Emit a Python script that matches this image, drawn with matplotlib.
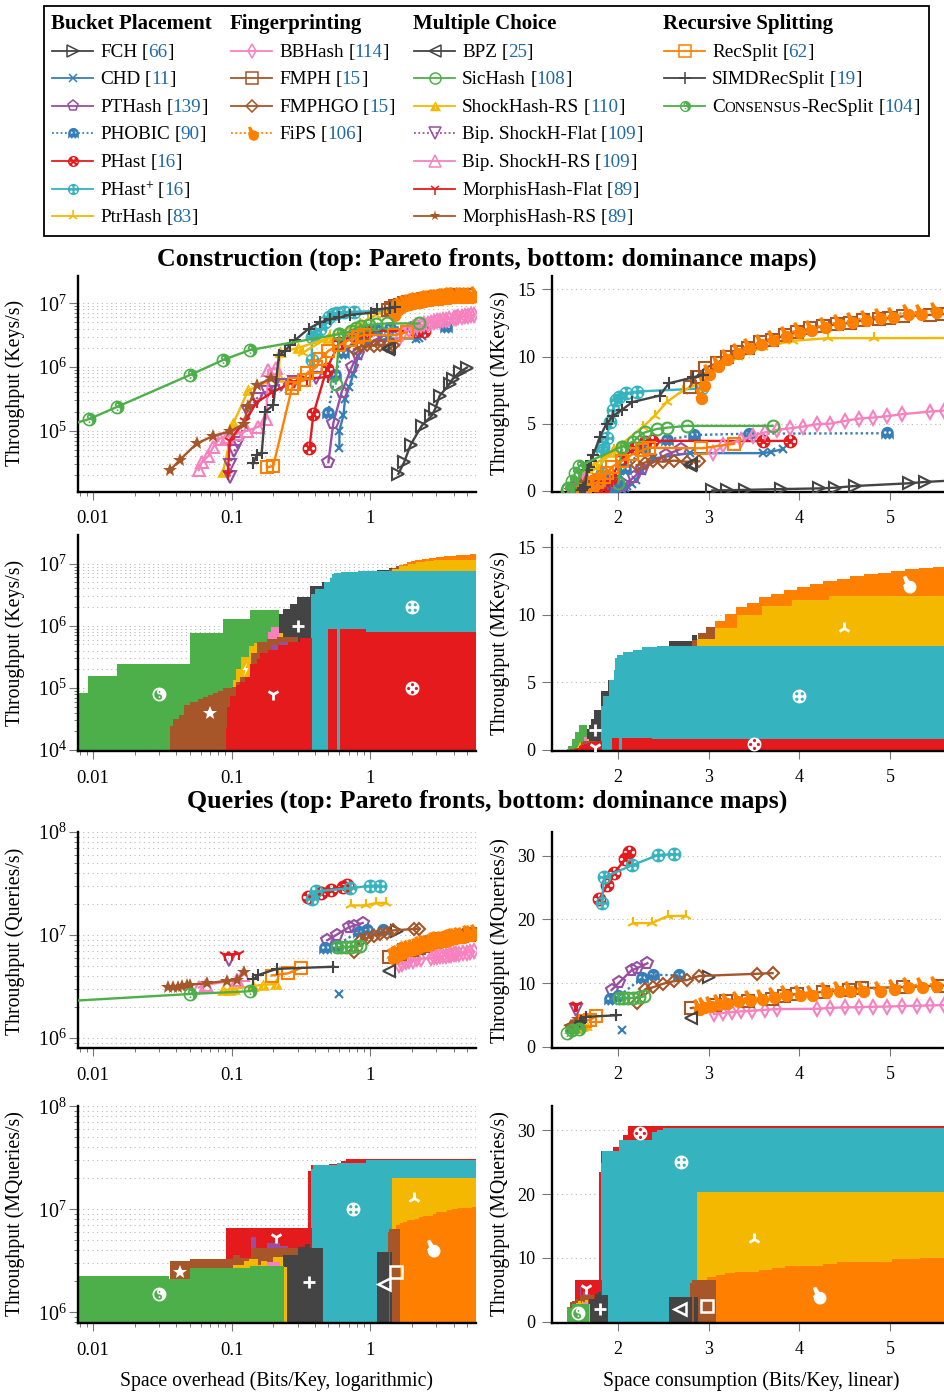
import numpy as np
import matplotlib
matplotlib.use("Agg")
import matplotlib.pyplot as plt
from matplotlib.path import Path
from matplotlib.patches import Rectangle

plt.rcParams['font.family'] = ['Liberation Serif', 'DejaVu Serif']
plt.rcParams['mathtext.fontset'] = 'custom'
plt.rcParams['mathtext.rm'] = 'Liberation Serif'
plt.rcParams['mathtext.default'] = 'rm'
plt.rcParams['axes.axisbelow'] = True

W, H = 944, 1393
LOG2E = 1.4427  # space consumption = overhead + log2(e)
XEND = 5.81

# ---- Pareto fronts: overhead (bits/key), million per second
# construction
con_fch_x = [1.6, 1.76, 1.96, 2.36, 2.77, 2.95, 3.17, 3.76, 3.94, 4.46, 5.0]
con_fch_y = [.021, .032, .06, .12, .17, .22, .35, .55, .65, .84, .98]
con_chd_x = [.6, .6, .642, .66, .71, .758, .82, .95, 1.353, 2.16, 2.25, 2.38]
con_chd_y = [.0535, .1, .176, .32, .49, .79, 1.5, 2.4, 2.8, 2.8, 2.9, 3.1]
con_pth_x = [.5, .543, .625, .737, .823, 1.085, 1.25]
con_pth_y = [.032, .133, .41, 1.0, 1.6, 2.66, 3.1]
con_pho_x = [.495, .558, .634, .85, 1.097, 1.4, 2.0, 3.52]
con_pho_y = [.187, .75, 1.64, 3.2, 3.78, 4.15, 4.25, 4.28]
con_pha_x = [.365, .39, .486, .6, .75, .858, .93, 2.16, 2.454]
con_pha_y = [.0535, .183, .93, 2.4, 3.2, 3.65, 3.72, 3.7, 3.72]
con_php_x = [.38, .38, .4, .436, .473, .509, .539, .575, .645, .766, 1.49]
con_php_y = [1.3, 3.0, 3.28, 3.9, 5.15, 6.0, 6.77, 7.0, 7.26, 7.39, 7.62]
con_ptr_x = [.326, .517, .84, .968, 1.096, 1.273, 1.5, 1.647, 1.886, 2.16, 2.49, 2.875, 3.38, 5.9]
con_ptr_y = [1.67, 3.03, 4.78, 5.6, 6.6, 7.46, 8.13, 9.05, 9.95, 10.7, 11.17, 11.37, 11.37, 11.4]
con_bbh_x = [1.61, 1.72, 1.92, 2.05, 2.18, 2.315, 2.454, 2.6, 2.75, 2.9, 3.06, 3.21, 3.37, 3.52, 3.69, 4.0, 4.15, 4.3, 4.6, 4.85, 5.1, 5.35, 5.6]
con_bbh_y = [2.78, 3.4, 3.78, 4.1, 4.35, 4.53, 4.65, 4.78, 4.95, 5.0, 5.2, 5.37, 5.45, 5.55, 5.7, 5.9, 5.97, 6.0, 6.15, 6.3, 6.4, 6.5, 6.6]
con_fmp_x = [1.353, 1.426, 1.518, 1.647, 1.757, 1.867, 1.995, 2.124, 2.253, 2.4, 2.53, 2.675, 2.82, 2.97, 3.115, 3.26, 3.43, 3.54, 3.7, 4.0, 4.14, 4.4, 5.0]
con_fmp_y = [7.76, 8.5, 9.13, 9.5, 9.95, 10.3, 10.6, 11.05, 11.24, 11.57, 11.8, 12.1, 12.24, 12.4, 12.5, 12.7, 12.8, 12.85, 13.0, 13.1, 13.16, 13.3, 13.5]
con_fgo_x = [.766, .858, .95, 1.06, 1.18, 1.317, 1.456]
con_fgo_y = [1.9, 2.1, 2.2, 2.16, 2.24, 2.16, 2.19]
con_fip_x = [1.463, 1.5, 1.555, 1.647, 1.75, 1.867, 1.995, 2.124, 2.26, 2.4, 2.546, 2.68, 2.83, 2.98, 3.125, 3.28, 3.43, 3.58, 3.74, 3.89, 4.05, 4.35, 4.6, 4.9, 5.3, 5.7]
con_fip_y = [7.06, 8.0, 8.88, 9.43, 9.95, 10.4, 10.75, 11.1, 11.37, 11.7, 11.94, 12.1, 12.34, 12.54, 12.74, 12.84, 13.0, 13.1, 13.28, 13.33, 13.43, 13.5, 13.6, 13.65, 13.7, 13.8]
con_bpz_x = [1.35, 1.37]
con_bpz_y = [1.9, 2.0]
con_sic_x = [.565, .6, .73, .785, .858, .986, 1.104, 1.317, 2.263]
con_sic_y = [.55, 3.28, 3.66, 4.03, 4.35, 4.6, 4.7, 4.83, 4.83]
con_sho_x = [.087, .103, .132, .22, .222, .304, .5]
con_sho_y = [.0227, .13, .43, .7, 1.7, 2.0, 2.85]
con_bif_x = [.097, .097, .105, .112, .132, .152, .179, .2, .226, .28, .41]
con_bif_y = [.019, .029, .048, .065, .2, .32, .41, .5, .52, .59, .66]
con_bir_x = [.058, .061, .068, .074, .082, .092, .11, .13, .156, .178, .184, .21]
con_bir_y = [.024, .032, .04, .056, .075, .08, .09, .1, .115, .155, .9, .95]
con_mof_x = [.094, .097, .125, .152, .2, .28, .35, .5]
con_mof_y = [.021, .07, .143, .28, .41, .58, .65, .7]
con_mor_x = [.036, .0425, .056, .074, .098, .122, .132, .152, .194]
con_mor_y = [.024, .035, .063, .083, .098, .127, .24, .52, .66]
con_rec_x = [.18, .2, .272, .28, .334, .35, .41, .436, .5, .6, .717, .824, .9, 1.48, 1.84]
con_rec_y = [.0265, .028, .46, .54, .62, .8, 1.0, 1.32, 1.8, 2.2, 2.7, 3.0, 3.2, 3.16, 3.5]
con_sim_x = [.144, .152, .165, .175, .2, .22, .243, .265, .288, .36, .435, .51, .6, .717, 1.02, 1.12, 1.39, 1.5]
con_sim_y = [.031, .042, .044, .2, .25, 1.54, 1.8, 2.2, 2.65, 4.0, 5.0, 5.6, 6.0, 6.6, 7.09, 8.0, 8.45, 8.63]
con_cons_x = [.0033, .0093, .015, .05, .087, .136, .6]
con_cons_y = [.08, .151, .238, .748, 1.29, 1.85, 3.28]

# queries
qry_fch_x = [1.56]
qry_fch_y = [11.0]
qry_chd_x = [.6]
qry_chd_y = [2.67]
qry_pth_x = [.49, .575, .71, .766, .884]
qry_pth_y = [8.9, 10.1, 12.0, 12.3, 13.1]
qry_pho_x = [.473, .565, .83, .95, 1.23]
qry_pho_y = [7.5, 7.9, 10.8, 11.3, 11.2]
qry_pha_x = [.355, .443, .52, .638, .685]
qry_pha_y = [23.2, 25.4, 27.3, 29.4, 30.6]
qry_php_x = [.381, .407, .72, 1.005, 1.177]
qry_php_y = [22.6, 26.6, 28.5, 30.1, 30.2]
qry_ptr_x = [.73, .931, 1.107, 1.306]
qry_ptr_y = [19.4, 19.4, 20.5, 20.55]
qry_bbh_x = [1.617, 1.713, 1.812, 1.92, 2.04, 2.18, 2.315, 2.755, 2.9, 3.06, 3.21, 3.37, 3.52, 3.69, 3.85, 4.0, 4.15, 4.4, 4.7, 5.0, 5.3, 5.6]
qry_bbh_y = [5.12, 5.28, 5.44, 5.54, 5.65, 5.8, 5.9, 5.96, 6.1, 6.17, 6.2, 6.27, 6.3, 6.38, 6.43, 6.48, 6.53, 6.6, 6.7, 6.75, 6.85, 6.95]
qry_fmp_x = [1.364, 1.63, 1.75, 1.995, 2.26, 2.39, 2.53, 2.82, 3.1, 3.25, 3.7, 4.12, 4.6, 5.2, 5.7]
qry_fmp_y = [6.06, 6.5, 7.1, 7.1, 7.5, 7.9, 8.3, 8.6, 8.9, 9.2, 9.35, 9.6, 9.8, 10.1, 10.3]
qry_fgo_x = [.766, .858, .95, 1.06, 1.18, 1.317, 1.456, 2.09, 2.263]
qry_fgo_y = [6.85, 9.0, 9.35, 9.9, 10.3, 10.45, 11.1, 11.45, 11.55]
qry_fip_x = [1.445, 1.5, 1.57, 1.665, 1.75, 1.875, 2.0, 2.13, 2.27, 2.4, 2.55, 2.69, 2.84, 2.98, 3.1, 3.25, 3.44, 3.59, 3.74, 3.9, 4.05, 4.3, 4.6, 5.0, 5.3, 5.7]
qry_fip_y = [6.2, 6.6, 6.75, 6.95, 7.25, 7.5, 7.65, 7.8, 8.15, 8.4, 8.45, 8.5, 8.95, 9.1, 9.05, 9.1, 9.1, 9.45, 9.65, 9.7, 9.8, 9.95, 10.1, 10.4, 10.55, 10.7]
qry_bpz_x = [1.364]
qry_bpz_y = [4.5]
qry_sic_x = [.575, .62, .67, .73, .79, .85]
qry_sic_y = [7.63, 7.65, 7.65, 7.65, 7.75, 7.9]
qry_sho_x = [.087, .098, .105, .144, .169, .21]
qry_sho_y = [2.95, 2.95, 3.0, 3.2, 3.3, 3.35]
qry_bif_x = [.096]
qry_bif_y = [5.7]
qry_bir_x = [.058, .065, .11, .12]
qry_bir_y = [3.1, 3.3, 3.65, 4.1]
qry_mof_x = [.09, .1, .114]
qry_mof_y = [6.45, 6.45, 6.6]
qry_mor_x = [.035, .038, .041, .044, .048, .05, .066, .092, .11, .122]
qry_mor_y = [3.15, 3.15, 3.15, 3.2, 3.25, 3.3, 3.4, 3.6, 3.65, 4.35]
qry_rec_x = [.195, .257, .318]
qry_rec_y = [4.05, 4.26, 4.8]
qry_sim_x = [.144, .156, .212, .543]
qry_sim_y = [3.72, 4.1, 4.7, 4.93]
qry_cons_x = [.003, .05, .136]
qry_cons_y = [2.15, 2.68, 2.85]

# ---- Dominance maps: step outlines, painted back to front
# construction
cm_orange_x = [1.53, 1.629, 1.739, 1.856, 1.98, 2.113, 2.245, 2.388, 2.531, 2.675, 2.818, 2.969, 3.115, 3.266, 3.42, 3.57, 3.72, 3.875, 4.03, 4.19, 4.35, 4.6, 4.9, 5.3, XEND]
cm_orange_y = [9.0, 9.55, 10.05, 10.55, 10.9, 11.3, 11.55, 11.8, 12.05, 12.3, 12.5, 12.65, 12.85, 13.0, 13.1, 13.25, 13.35, 13.45, 13.55, 13.6, 13.7, 13.85, 14.0, 14.2, 14.2]
cm_dark2_x = [1.117, 1.38, 1.43]
cm_dark2_y = [8.03, 8.5, 8.5]
cm_brown2_x = [1.379, 1.441, 1.53, 1.629]
cm_brown2_y = [8.1, 8.65, 9.1, 9.1]
cm_yellow_x = [1.427, 1.629, 1.867, 2.142, 2.473, 2.88, XEND]
cm_yellow_y = [8.2, 9.03, 9.95, 10.65, 11.1, 11.4, 11.4]
cm_dark_x = [.22, .2365, .2643, .2985, .3688, .4476, .514]
cm_dark_y = [1.54, 1.84, 2.24, 2.95, 4.34, 5.14, 5.14]
cm_teal_x = [.374, .4, .462, .517, .532, .546, .62, .73, .82, .987, XEND]
cm_teal_y = [3.2, 3.95, 5.15, 5.9, 6.8, 7.0, 7.25, 7.4, 7.6, 7.66, 7.66]
cm_red_x = [.495, .575, .61, .935, XEND]
cm_red_y = [.88, .001, .88, .79, .79]
cm_green_x = [.003, .00926, .0149, .0501, .0869, .135, .22]
cm_green_y = [.083, .156, .24, .77, 1.3, 1.81, 1.81]
cm_pink_x = [.1827, .1915, .22]
cm_pink_y = [.8, .94, .94]
cm_shock_x = [.103, .108, .1168, .1345, .145, .1795, .22, .236]
cm_shock_y = [.134, .198, .317, .471, .53, .57, .753, .753]
cm_brown_x = [.0357, .0378, .0417, .0457, .0501, .057, .0625, .068, .0739, .0795, .087, .1, .108, .115, .1393, .152, .1795, .2117, .3037]
cm_brown_y = [.0243, .031, .0365, .053, .06, .066, .072, .077, .084, .09, .098, .104, .126, .15, .36, .55, .62, .665, .665]
cm_purple_x = [.195, .2217, .2568]
cm_purple_y = [.483, .553, .553]
cm_morph_x = [.0916, .0933, .0974, .1077, .1154, .1252, .136, .1517, .1605, .1845, .2182, .2568, .3125, .379]
cm_morph_y = [.0223, .0497, .0745, .111, .125, .151, .247, .287, .359, .415, .487, .553, .625, .625]

# queries
qm_red_x = [.355, .374, .509, .575, .612, .674, XEND]
qm_red_y = [23.5, 26.7, 27.4, 28.3, 29.2, 30.7, 30.7]
qm_teal_x = [.374, .388, .575, .939, .986, 1.06, XEND]
qm_teal_y = [24.8, 26.8, 28.4, 29.8, 30.1, 30.3, 30.3]
qm_yellow_x = [1.427, XEND]
qm_yellow_y = [20.3, 20.3]
qm_orange_x = [1.544, 1.64, 1.739, 1.849, 2.117, 2.252, 2.399, 2.821, 2.968, 3.574, 3.886, 4.3, 4.9, 5.4, XEND]
qm_orange_y = [7.04, 7.3, 7.56, 7.8, 8.08, 8.45, 8.7, 9.1, 9.34, 9.8, 9.96, 10.2, 10.4, 10.6, 10.6]
qm_brown2_x = [1.353, 1.372, 1.636]
qm_brown2_y = [6.05, 6.47, 6.47]
qm_bpz_x = [1.122, 1.372, 1.397, 1.438]
qm_bpz_y = [3.85, .001, 3.85, 3.85]
qm_morph_x = [.0917, .379]
qm_morph_y = [6.54, 6.54]
qm_purple_x = [.139, .15, .18, .222, .257]
qm_purple_y = [5.43, .001, 4.67, 4.4, 4.4]
qm_brown_x = [.0357, .0501, .103, .115, .139, .3]
qm_brown_y = [3.15, 3.27, 3.6, 3.34, 4.18, 4.18]
qm_dark_x = [.2365, .304, .339, .369, .455]
qm_dark_y = [3.6, 4.34, 4.6, 4.21, 4.21]
qm_shock_x = [.103, .122, .1337, .156, .162, .18, .2, .234, .25]
qm_shock_y = [2.88, 3.17, 3.27, 2.88, 3.17, 2.88, 3.47, 2.78, 2.78]
qm_pink_x = [.18, .222]
qm_pink_y = [3.1, 3.1]
qm_green_x = [.003, .0354, .0501, .136, .2395]
qm_green_y = [2.24, 2.1, 2.7, 2.82, 2.82]

# ---- colours
DARK = '#444444'
BLUE = '#377EB8'
PURPLE = '#984EA3'
RED = '#E41A1C'
TEAL = '#35B3BF'
YELLOW = '#F5B800'
PINK = '#F781BF'
BROWN = '#A65628'
ORANGE = '#FF7F00'
GREEN = '#4DAF4A'
CITE = '#1F6BA5'


# ---- marker shapes
def oriented(pts, ccw=True):
    pts = np.asarray(pts, dtype=float)
    x, y = pts[:, 0], pts[:, 1]
    area = np.sum(x * np.roll(y, -1) - np.roll(x, -1) * y)
    if (area > 0) != ccw:
        pts = pts[::-1]
    return pts


def arc(cx, cy, r, a0, a1, n=24):
    a = np.radians(np.linspace(a0, a1, n))
    return np.column_stack([cx + r * np.cos(a), cy + r * np.sin(a)])


def circ(cx, cy, r, ccw=True):
    return oriented(arc(cx, cy, r, 0, 350, 36), ccw)


def shape(*polys):
    paths = [Path(np.vstack([p, p[0]]), closed=True) for p in polys]
    return Path.make_compound_path(*paths)


def wheel(angles):
    holes = [circ(.56 * np.cos(np.radians(a)), .56 * np.sin(np.radians(a)), .23, False) for a in angles]
    return shape(circ(0, 0, 1), *holes)


PHAST_M = wheel([0, 90, 180, 270])
PHASTP_M = wheel([45, 135, 225, 315])

yin = np.vstack([arc(0, 0, .76, 90, 270), arc(0, -.38, .38, -90, 90), arc(0, .38, .38, -90, -270)])
YINYANG_M = shape(circ(0, 0, 1), oriented(yin, False), circ(0, -.38, .13), circ(0, .38, .13, False))

ghost = np.vstack([arc(0, .05, 1, 0, 180),
                   [(-1, -1), (-.66, -.65), (-.33, -1), (0, -.65), (.33, -1), (.66, -.65), (1, -1)]])
GHOST_M = shape(oriented(ghost), circ(-.36, .15, .2, False), circ(.36, .15, .2, False))

HAND_M = shape(circ(.18, -.3, .72),
               oriented([(-.62, .85), (-.28, 1.0), (.3, .1), (-.32, -.1)]),
               oriented([(-.62, -.1), (-.3, -.55), (0, -.2), (-.3, .15)]))

bolt = [(.18, .62), (-.28, -.05), (.02, -.05), (-.16, -.62), (.3, .12), (.0, .12)]
SHOCK_M = shape(oriented([(-1, -.85), (1, -.85), (0, 1)]), oriented(bolt, False))
BOLT_M = shape(oriented([(x * 1.4, y * 1.6) for x, y in bolt]))

# name, citation, colour, marker, hollow, line style, marker size, x/y of both panels
methods = [
    ('FCH', '66', DARK, '>', True, '-', 8.5, con_fch_x, con_fch_y, qry_fch_x, qry_fch_y),
    ('CHD', '11', BLUE, 'x', False, '-', 6, con_chd_x, con_chd_y, qry_chd_x, qry_chd_y),
    ('PTHash', '139', PURPLE, 'p', True, '-', 8.5, con_pth_x, con_pth_y, qry_pth_x, qry_pth_y),
    ('PHOBIC', '90', BLUE, GHOST_M, False, ':', 9.5, con_pho_x, con_pho_y, qry_pho_x, qry_pho_y),
    ('PHast', '16', RED, PHAST_M, False, '-', 10, con_pha_x, con_pha_y, qry_pha_x, qry_pha_y),
    ('PHast+', '16', TEAL, PHASTP_M, False, '-', 10, con_php_x, con_php_y, qry_php_x, qry_php_y),
    ('PtrHash', '83', YELLOW, '2', False, '-', 8.5, con_ptr_x, con_ptr_y, qry_ptr_x, qry_ptr_y),
    ('BBHash', '114', PINK, 'd', True, '-', 7.5, con_bbh_x, con_bbh_y, qry_bbh_x, qry_bbh_y),
    ('FMPH', '15', BROWN, 's', True, '-', 8, con_fmp_x, con_fmp_y, qry_fmp_x, qry_fmp_y),
    ('FMPHGO', '15', BROWN, 'D', True, '-', 6, con_fgo_x, con_fgo_y, qry_fgo_x, qry_fgo_y),
    ('FiPS', '106', ORANGE, HAND_M, False, ':', 12.5, con_fip_x, con_fip_y, qry_fip_x, qry_fip_y),
    ('BPZ', '25', DARK, '<', True, '-', 8.5, con_bpz_x, con_bpz_y, qry_bpz_x, qry_bpz_y),
    ('SicHash', '108', GREEN, 'o', True, '-', 8.5, con_sic_x, con_sic_y, qry_sic_x, qry_sic_y),
    ('ShockHash-RS', '110', YELLOW, SHOCK_M, False, '-', 9, con_sho_x, con_sho_y, qry_sho_x, qry_sho_y),
    ('Bip. ShockH-Flat', '109', PURPLE, 'v', True, ':', 8.5, con_bif_x, con_bif_y, qry_bif_x, qry_bif_y),
    ('Bip. ShockH-RS', '109', PINK, '^', True, '-', 8.5, con_bir_x, con_bir_y, qry_bir_x, qry_bir_y),
    ('MorphisHash-Flat', '89', RED, '1', False, '-', 8.5, con_mof_x, con_mof_y, qry_mof_x, qry_mof_y),
    ('MorphisHash-RS', '89', BROWN, '*', False, '-', 10, con_mor_x, con_mor_y, qry_mor_x, qry_mor_y),
    ('RecSplit', '62', ORANGE, 's', True, '-', 8, con_rec_x, con_rec_y, qry_rec_x, qry_rec_y),
    ('SIMDRecSplit', '19', DARK, '+', False, '-', 8.5, con_sim_x, con_sim_y, qry_sim_x, qry_sim_y),
    ('CONSENSUS', '104', GREEN, YINYANG_M, False, '-', 10, con_cons_x, con_cons_y, qry_cons_x, qry_cons_y),
]

con_layers = [(cm_orange_x, cm_orange_y, ORANGE), (cm_dark2_x, cm_dark2_y, DARK), (cm_brown2_x, cm_brown2_y, BROWN),
              (cm_orange_x[1:], cm_orange_y[1:], ORANGE), (cm_yellow_x, cm_yellow_y, YELLOW), (cm_dark_x, cm_dark_y, DARK),
              (cm_teal_x, cm_teal_y, TEAL), (cm_red_x, cm_red_y, RED), (cm_green_x, cm_green_y, GREEN),
              (cm_pink_x, cm_pink_y, PINK), (cm_shock_x, cm_shock_y, YELLOW), (cm_brown_x, cm_brown_y, BROWN),
              (cm_purple_x, cm_purple_y, PURPLE), (cm_morph_x, cm_morph_y, RED)]
qry_layers = [(qm_red_x, qm_red_y, RED), (qm_teal_x, qm_teal_y, TEAL), (qm_yellow_x, qm_yellow_y, YELLOW),
              (qm_orange_x, qm_orange_y, ORANGE), (qm_brown2_x, qm_brown2_y, BROWN), (qm_bpz_x, qm_bpz_y, DARK),
              (qm_morph_x, qm_morph_y, RED), (qm_purple_x, qm_purple_y, PURPLE), (qm_brown_x, qm_brown_y, BROWN),
              (qm_dark_x, qm_dark_y, DARK), (qm_shock_x, qm_shock_y, YELLOW), (qm_pink_x, qm_pink_y, PINK),
              (qm_green_x, qm_green_y, GREEN)]

# white region labels: marker, size, width, x (overhead or bits), y (million)
icons_con_log = [(YINYANG_M, 10, 0, .0299, .0805), ('*', 10, 0, .0698, .0398), ('1', 9, 2, .2, .0786), (BOLT_M, 10, 0, .125, .198),
                 (PHAST_M, 10, 0, 2.02, .1), (PHASTP_M, 10, 0, 2.02, 2.02), ('+', 8, 2, .3, 1.0)]
icons_con_lin = [(HAND_M, 13, 0, 5.2, 12.3), ('2', 9, 2, 4.495, 9.03), (PHASTP_M, 10, 0, 4.0, 4.0), (PHAST_M, 10, 0, 3.5, .4),
                 ('+', 8, 2, 1.75, 1.47), ('1', 9, 2, 1.75, .22)]
icons_qry_log = [(YINYANG_M, 10, 0, .0299, 1.5), ('*', 10, 0, .0428, 2.48), ('1', 9, 2, .209, 5.35), (PHASTP_M, 10, 0, .75, 10.0),
                 ('2', 9, 2, 2.07, 13.0), (HAND_M, 13, 0, 2.8, 4.2), ('+', 8, 2, .362, 1.98)]
icons_qry_hollow_log = [('<', 1.25, 1.88), ('s', 1.54, 2.48)]
icons_qry_lin = [(PHAST_M, 10, 0, 2.25, 29.6), (PHASTP_M, 10, 0, 2.7, 25.0), ('2', 9, 2, 3.5, 13.0), (HAND_M, 13, 0, 4.21, 4.17),
                 ('1', 9, 2, 1.65, 5.3), ('+', 8, 2, 1.8, 2.0), (YINYANG_M, 10, 0, 1.56, 1.4)]
icons_qry_hollow_lin = [('<', 2.69, 1.93), ('s', 2.98, 2.5)]

fig = plt.figure(figsize=(W / 100, H / 100), dpi=100)
FS = 13.75
LABEL_FS = 14.3
GRID = dict(color='#b8b8b8', ls=(0, (1, 3.2)), lw=.8)


def make_axes(top, bottom, left, right):
    ax = fig.add_axes([left / W, 1 - bottom / H, (right - left) / W, (bottom - top) / H])
    ax.spines['top'].set_visible(False)
    ax.spines['right'].set_visible(False)
    ax.spines['left'].set_linewidth(1.7)
    ax.spines['bottom'].set_linewidth(1.7)
    ax.patch.set_alpha(0)
    return ax


def style_log(ax, ylow, yhigh, decades):
    ax.set_xscale('log')
    ax.set_yscale('log')
    ax.set_xticks([.01, .1, 1], ['0.01', '0.1', '1'])
    ax.set_xticks([k * 10.0 ** d for d in (-3, -2, -1, 0) for k in range(2, 10)], minor=True)
    ax.set_xticklabels([], minor=True)
    ax.set_yticks([10.0 ** d for d in range(4, 9)], ['$10^{%d}$' % d for d in range(4, 9)])
    ax.set_yticks([k * 10.0 ** d for d in decades for k in range(2, 10)], minor=True)
    ax.set_yticklabels([], minor=True)
    ax.grid(True, axis='y', which='both', **GRID)
    ax.set_xlim(10 ** (-2 - 15.3 / 138.7), 10 ** (105.7 / 138.7))
    ax.set_ylim(10 ** ylow, 10 ** yhigh)
    ax.tick_params(axis='x', which='major', length=5.5, width=.8, color='#777777', pad=8, labelsize=13.3)
    ax.tick_params(axis='x', which='minor', length=3, width=.7, color='#777777')
    ax.tick_params(axis='y', which='major', length=6.5, width=.8, color='#777777', pad=1.5, labelsize=14.4)
    ax.tick_params(axis='y', which='minor', length=3, width=.7, color='#777777')


def style_lin(ax, yticks, ylow, yhigh):
    ax.set_xticks([2, 3, 4, 5])
    ax.set_yticks(yticks)
    ax.grid(True, axis='y', **GRID)
    ax.set_xlim(2 - 65.4 / 90.8, 2 + 326.3 / 90.8)
    ax.set_ylim(ylow, yhigh)
    ax.tick_params(axis='x', length=6, width=.8, color='#777777', pad=7, labelsize=13)
    ax.tick_params(axis='y', length=7, width=.8, color='#777777', pad=5, labelsize=13.1)


def draw_fronts(ax, panel, linear):
    for m in methods:
        name, cite, col, mk, hollow, ls, ms = m[:7]
        xs, ys = (m[7], m[8]) if panel == 'con' else (m[9], m[10])
        xs = np.array(xs) + (LOG2E if linear else 0)
        ys = np.array(ys) * (1 if linear else 1e6)
        ax.plot(xs, ys, color=col, lw=1.7, ls=(0, (1, 1.2)) if ls == ':' else '-', marker=mk, ms=ms,
                mfc='none' if hollow else col, mec=col, mew=1.5 if (hollow or mk in ('x', '+', '1', '2')) else 0, zorder=3)


def draw_map(ax, layers, linear):
    bottom = ax.get_ylim()[0]
    for xs, ys, col in layers:
        xs = np.array(xs) + (LOG2E if linear else 0)
        ys = np.array(ys) * (1 if linear else 1e6)
        ax.fill_between(xs, ys, bottom, step='post', color=col, lw=0, zorder=2)


def draw_icons(ax, icons, hollow, linear):
    f = 1 if linear else 1e6
    for mk, ms, mew, x, y in icons:
        ax.plot([x], [y * f], marker=mk, ms=ms, color='white', mec='white', mew=mew, zorder=4)
    for mk, x, y in hollow:
        ax.plot([x], [y * f], marker=mk, ms=8, mfc='none', mec='white', mew=1.8, zorder=4)


LEFT, MID, RIGHT, END = 77.7, 552.3, 475.7, 944

decades_con = (3, 4, 5, 6)
decades_qry = (5, 6, 7)

ax1 = make_axes(276, 491.5, LEFT, RIGHT)
style_log(ax1, 7 - 188.2 / 63.7, 7 + 27.3 / 63.7, decades_con)
draw_fronts(ax1, 'con', False)

ax2 = make_axes(276, 491.5, MID, END)
style_lin(ax2, [0, 5, 10, 15], -.06, 16)
draw_fronts(ax2, 'con', True)

ax3 = make_axes(535, 751, LEFT, RIGHT)
style_log(ax3, 7 - 187.3 / 62.1, 7 + 28.7 / 62.1, decades_con)
draw_map(ax3, con_layers, False)
draw_icons(ax3, icons_con_log, [], False)

ax4 = make_axes(535, 751, MID, END)
style_lin(ax4, [0, 5, 10, 15], -.1, 15.9)
draw_map(ax4, con_layers, True)
draw_icons(ax4, icons_con_lin, [], True)

ax5 = make_axes(832, 1048, LEFT, RIGHT)
style_log(ax5, 8 - 216.3 / 103.2, 8, decades_qry)
draw_fronts(ax5, 'qry', False)

ax6 = make_axes(832, 1048, MID, END)
style_lin(ax6, [0, 10, 20, 30], -.2, 33.7)
draw_fronts(ax6, 'qry', True)

ax7 = make_axes(1106.3, 1323, LEFT, RIGHT)
style_log(ax7, 8 - 216.7 / 103, 8, decades_qry)
draw_map(ax7, qry_layers, False)
draw_icons(ax7, icons_qry_log, icons_qry_hollow_log, False)

ax8 = make_axes(1106.3, 1323, MID, END)
style_lin(ax8, [0, 10, 20, 30], -.2, 33.75)
draw_map(ax8, qry_layers, True)
draw_icons(ax8, icons_qry_lin, icons_qry_hollow_lin, True)

# overlay in pixel coordinates for legend, titles and axis captions
ov = fig.add_axes([0, 0, 1, 1], zorder=10)
ov.set_xlim(0, W)
ov.set_ylim(H, 0)
ov.axis('off')

ov.text(487, 259.5, 'Construction (top: Pareto fronts, bottom: dominance maps)', ha='center', va='center', fontsize=18.6, fontweight='bold')
ov.text(487, 801.5, 'Queries (top: Pareto fronts, bottom: dominance maps)', ha='center', va='center', fontsize=18.6, fontweight='bold')
ov.text(277, 1381, 'Space overhead (Bits/Key, logarithmic)', ha='center', va='center', fontsize=14.2)
ov.text(751, 1381, 'Space consumption (Bits/Key, linear)', ha='center', va='center', fontsize=14.2)

for px, py, label in [(15, 383, 'Throughput (Keys/s)'), (500, 383, 'Throughput (MKeys/s)'),
                      (15, 643, 'Throughput (Keys/s)'), (500, 643, 'Throughput (MKeys/s)'),
                      (15, 941, 'Throughput (Queries/s)'), (500, 941, 'Throughput (MQueries/s)'),
                      (15, 1214, 'Throughput (MQueries/s)'), (500, 1214, 'Throughput (MQueries/s)')]:
    ov.text(px, py, label, rotation=90, ha='center', va='center', fontsize=LABEL_FS)

ov.add_patch(Rectangle((44, 6), 885, 230, fill=False, ec='black', lw=1.3))

groups = [(51, 'Bucket Placement', methods[:7]), (230, 'Fingerprinting', methods[7:11]),
          (413, 'Multiple Choice', methods[11:18]), (663, 'Recursive Splitting', methods[18:])]
rows = [51, 78, 106, 133, 161, 189, 216]
renderer = fig.canvas.get_renderer()


def run_text(x, y, s, color='black', scale=1.0, rise=0):
    t = ov.text(x, y - rise, s, color=color, fontsize=FS * scale, ha='left', va='baseline')
    return x + t.get_window_extent(renderer).width


for gx, head, members in groups:
    ov.text(gx, 29, head, fontsize=15, fontweight='bold', ha='left', va='baseline')
    for (m, ry) in zip(members, rows):
        name, cite, col, mk, hollow, ls, ms = m[:7]
        ov.plot([gx + 1, gx + 42], [ry, ry], color=col, lw=1.3, ls=(0, (1, 1.4)) if ls == ':' else '-', zorder=2)
        ov.plot([gx + 22], [ry], marker=mk, ms=min(ms, 8) if mk is not HAND_M else 10.5, mfc='none' if hollow else col, mec=col,
                mew=1.1 if (hollow or mk in ('x', '+', '1', '2')) else 0, ls='none', zorder=3)
        base = ry + 6
        x = gx + 49
        if name == 'PHast+':
            x = run_text(x, base, 'PHast')
            x = run_text(x, base, '+', scale=.72, rise=6)
        elif name == 'CONSENSUS':
            x = run_text(x, base, 'C')
            x = run_text(x, base, 'ONSENSUS', scale=.78)
            x = run_text(x, base, '-RecSplit')
        else:
            x = run_text(x, base, name)
        x = run_text(x + 4.5, base, '[')
        x = run_text(x, base, cite, color=CITE)
        run_text(x, base, ']')

fig.savefig('out.png', dpi=100)
